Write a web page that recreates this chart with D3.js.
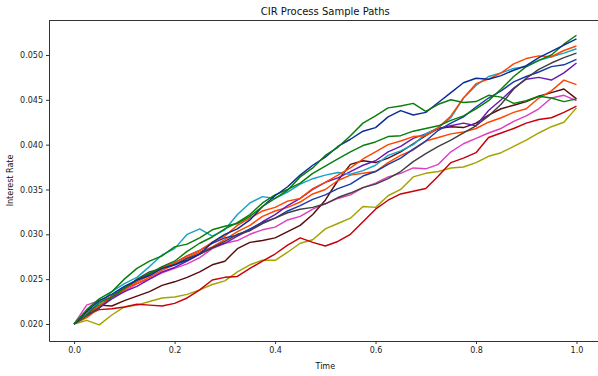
<!DOCTYPE html>
<html>
<head>
<meta charset="utf-8">
<script src="https://cdn.jsdelivr.net/npm/d3@7"></script>
<style>
    body { margin: 0; background: #fff; }
    svg { display: block; font-family: 'DejaVu Sans', sans-serif; }
</style>
</head>
<body>
<div id="chart"></div>
<script>
'use strict';

// sample times (41 steps on [0, 1])
const times = [0, 0.025, 0.05, 0.075, 0.1, 0.125, 0.15, 0.175, 0.2, 0.225, 0.25, 0.275, 0.3, 0.325, 0.35, 0.375,
    0.4, 0.425, 0.45, 0.475, 0.5, 0.525, 0.55, 0.575, 0.6, 0.625, 0.65, 0.675, 0.7, 0.725, 0.75, 0.775,
    0.8, 0.825, 0.85, 0.875, 0.9, 0.925, 0.95, 0.975, 1];

// paths
const olivePath = [0.0200, 0.0204, 0.0199, 0.0210, 0.0219, 0.0221, 0.0225, 0.0229, 0.0230, 0.0233, 0.0238, 0.0244, 0.0248, 0.0258,
    0.0266, 0.0271, 0.0271, 0.0280, 0.0290, 0.0294, 0.0306, 0.0312, 0.0318, 0.0331, 0.0330, 0.0343, 0.0350, 0.0364, 0.0368, 0.0370,
    0.0374, 0.0375, 0.0380, 0.0387, 0.0391, 0.0398, 0.0405, 0.0413, 0.0420, 0.0425, 0.0441];
const redPath = [0.0200, 0.0210, 0.0216, 0.0217, 0.0219, 0.0222, 0.0221, 0.0220, 0.0223, 0.0229, 0.0238, 0.0249, 0.0252, 0.0253,
    0.0262, 0.0270, 0.0278, 0.0288, 0.0296, 0.0291, 0.0287, 0.0292, 0.0300, 0.0314, 0.0328, 0.0338, 0.0345, 0.0348, 0.0351, 0.0365,
    0.0380, 0.0385, 0.0391, 0.0408, 0.0413, 0.0418, 0.0424, 0.0428, 0.0430, 0.0436, 0.0443];
const magentaPath = [0.0200, 0.0221, 0.0226, 0.0230, 0.0236, 0.0245, 0.0250, 0.0257, 0.0262, 0.0267, 0.0274, 0.0284, 0.0290, 0.0293,
    0.0300, 0.0305, 0.0308, 0.0316, 0.0320, 0.0328, 0.0334, 0.0340, 0.0344, 0.0352, 0.0357, 0.0364, 0.0368, 0.0374, 0.0373, 0.0378,
    0.0392, 0.0401, 0.0407, 0.0413, 0.0418, 0.0426, 0.0432, 0.0440, 0.0452, 0.0455, 0.0449];
const maroonPath = [0.0200, 0.0214, 0.0221, 0.0220, 0.0226, 0.0231, 0.0236, 0.0243, 0.0247, 0.0252, 0.0258, 0.0266, 0.0270, 0.0284,
    0.0291, 0.0293, 0.0296, 0.0303, 0.0310, 0.0322, 0.0338, 0.0360, 0.0378, 0.0382, 0.0380, 0.0385, 0.0392, 0.0401, 0.0410, 0.0418,
    0.0420, 0.0419, 0.0424, 0.0433, 0.0440, 0.0444, 0.0448, 0.0454, 0.0458, 0.0462, 0.0451];
const orangePathB = [0.0200, 0.0207, 0.0218, 0.0231, 0.0240, 0.0245, 0.0252, 0.0260, 0.0266, 0.0274, 0.0280, 0.0286, 0.0294, 0.0303,
    0.0310, 0.0320, 0.0326, 0.0330, 0.0336, 0.0345, 0.0350, 0.0360, 0.0366, 0.0368, 0.0370, 0.0380, 0.0388, 0.0394, 0.0404, 0.0408,
    0.0412, 0.0414, 0.0418, 0.0425, 0.0430, 0.0436, 0.0440, 0.0452, 0.0460, 0.0472, 0.0467];
const purplePath = [0.0200, 0.0210, 0.0218, 0.0228, 0.0236, 0.0242, 0.0250, 0.0258, 0.0263, 0.0270, 0.0278, 0.0285, 0.0290, 0.0298,
    0.0305, 0.0314, 0.0322, 0.0332, 0.0340, 0.0350, 0.0358, 0.0363, 0.0370, 0.0377, 0.0382, 0.0392, 0.0398, 0.0407, 0.0412, 0.0418,
    0.0421, 0.0424, 0.0421, 0.0438, 0.0450, 0.0463, 0.0473, 0.0475, 0.0472, 0.0480, 0.0491];
const bluePathB = [0.0200, 0.0212, 0.0220, 0.0231, 0.0240, 0.0249, 0.0256, 0.0263, 0.0268, 0.0276, 0.0282, 0.0290, 0.0296, 0.0299,
    0.0306, 0.0313, 0.0318, 0.0326, 0.0332, 0.0339, 0.0344, 0.0351, 0.0356, 0.0365, 0.0370, 0.0378, 0.0385, 0.0395, 0.0404, 0.0416,
    0.0424, 0.0431, 0.0442, 0.0452, 0.0460, 0.0470, 0.0476, 0.0481, 0.0487, 0.0489, 0.0495];
const grayPath = [0.0200, 0.0209, 0.0218, 0.0230, 0.0238, 0.0250, 0.0258, 0.0262, 0.0266, 0.0273, 0.0278, 0.0285, 0.0292, 0.0300,
    0.0304, 0.0312, 0.0318, 0.0324, 0.0328, 0.0330, 0.0334, 0.0341, 0.0346, 0.0352, 0.0356, 0.0362, 0.0370, 0.0381, 0.0390, 0.0398,
    0.0405, 0.0413, 0.0421, 0.0432, 0.0445, 0.0462, 0.0474, 0.0484, 0.0491, 0.0497, 0.0502];
const cyanPath = [0.0200, 0.0213, 0.0222, 0.0236, 0.0245, 0.0252, 0.0264, 0.0277, 0.0284, 0.0300, 0.0306, 0.0298, 0.0305, 0.0322,
    0.0335, 0.0342, 0.0340, 0.0347, 0.0356, 0.0362, 0.0366, 0.0369, 0.0367, 0.0371, 0.0377, 0.0388, 0.0393, 0.0400, 0.0412, 0.0419,
    0.0430, 0.0452, 0.0466, 0.0476, 0.0480, 0.0485, 0.0487, 0.0494, 0.0498, 0.0502, 0.0507];
const orangePathA = [0.0200, 0.0212, 0.0220, 0.0231, 0.0238, 0.0247, 0.0254, 0.0263, 0.0268, 0.0276, 0.0282, 0.0291, 0.0298, 0.0310,
    0.0318, 0.0326, 0.0330, 0.0337, 0.0340, 0.0351, 0.0358, 0.0366, 0.0374, 0.0384, 0.0392, 0.0400, 0.0404, 0.0409, 0.0410, 0.0419,
    0.0432, 0.0452, 0.0468, 0.0473, 0.0480, 0.0490, 0.0496, 0.0499, 0.0498, 0.0505, 0.0510];
const greenPathB = [0.0200, 0.0210, 0.0224, 0.0230, 0.0240, 0.0249, 0.0256, 0.0264, 0.0270, 0.0281, 0.0290, 0.0297, 0.0306, 0.0313,
    0.0322, 0.0335, 0.0344, 0.0350, 0.0357, 0.0368, 0.0376, 0.0384, 0.0392, 0.0399, 0.0403, 0.0409, 0.0410, 0.0415, 0.0418, 0.0421,
    0.0427, 0.0432, 0.0440, 0.0449, 0.0462, 0.0476, 0.0487, 0.0494, 0.0500, 0.0512, 0.0522];
const navyPath = [0.0200, 0.0214, 0.0226, 0.0233, 0.0242, 0.0249, 0.0254, 0.0262, 0.0266, 0.0271, 0.0278, 0.0291, 0.0300, 0.0306,
    0.0316, 0.0331, 0.0343, 0.0353, 0.0366, 0.0377, 0.0386, 0.0398, 0.0406, 0.0415, 0.0419, 0.0431, 0.0438, 0.0433, 0.0436, 0.0447,
    0.0458, 0.0469, 0.0474, 0.0473, 0.0477, 0.0483, 0.0488, 0.0497, 0.0504, 0.0511, 0.0518];
const greenPathA = [0.0200, 0.0216, 0.0228, 0.0236, 0.0250, 0.0262, 0.0270, 0.0276, 0.0286, 0.0289, 0.0296, 0.0305, 0.0309, 0.0312,
    0.0320, 0.0331, 0.0340, 0.0349, 0.0364, 0.0374, 0.0388, 0.0397, 0.0410, 0.0424, 0.0432, 0.0441, 0.0443, 0.0446, 0.0437, 0.0445,
    0.0450, 0.0447, 0.0448, 0.0455, 0.0453, 0.0446, 0.0449, 0.0454, 0.0452, 0.0448, 0.0451];

const pathList = [olivePath, redPath, magentaPath, maroonPath, orangePathB, purplePath, bluePathB,
    grayPath, cyanPath, orangePathA, greenPathB, navyPath, greenPathA];
const pathColors = ['#a3a300', '#c8000a', '#de3fbf', '#580d0d', '#ff4500', '#6b18b8', '#1a3aa8',
    '#404040', '#14a3c4', '#ff4500', '#0a7d0a', '#0a2d96', '#0a7d0a'];

const xTicks = [0, 0.2, 0.4, 0.6, 0.8, 1.0];
const yTicks = [0.020, 0.025, 0.030, 0.035, 0.040, 0.045, 0.050];

class CirChart {
    constructor() {
        this.width = 598;
        this.height = 376;
        this.margin = { top: 20, left: 49, bottom: 341, right: 601.6 };
        this.xScale = d3.scaleLinear().domain([-0.05, 1.05]).range([this.margin.left, this.margin.right]);
        this.yScale = d3.scaleLinear().domain([0.0181, 0.0539]).range([this.margin.bottom, this.margin.top]);
    }

    prepareSVG() {
        this.svg = d3.select('#chart').append('svg')
            .attr('width', this.width)
            .attr('height', this.height);
        this.svg.append('rect').attr('width', this.width).attr('height', this.height).attr('fill', '#fff');
        this.svg.append('defs').append('clipPath').attr('id', 'plotClip')
            .append('rect')
            .attr('x', this.margin.left).attr('y', this.margin.top)
            .attr('width', this.margin.right - this.margin.left)
            .attr('height', this.margin.bottom - this.margin.top);
    }

    drawPaths() {
        const line = d3.line()
            .x((d, i) => this.xScale(times[i]))
            .y((d) => this.yScale(d));
        const g = this.svg.append('g').attr('clip-path', 'url(#plotClip)');
        pathList.forEach((values, i) => {
            g.append('path')
                .datum(values)
                .attr('fill', 'none')
                .attr('stroke', pathColors[i])
                .attr('stroke-width', 1.45)
                .attr('stroke-linejoin', 'round')
                .attr('d', line);
        });
    }

    drawAxis() {
        const m = this.margin;
        const xAxis = this.svg.append('g')
            .attr('transform', `translate(0, ${m.bottom})`)
            .call(d3.axisBottom(this.xScale).tickValues(xTicks)
                .tickFormat(d3.format('.1f')).tickSize(3).tickSizeOuter(0).tickPadding(3));
        const yAxis = this.svg.append('g')
            .attr('transform', `translate(${m.left}, 0)`)
            .call(d3.axisLeft(this.yScale).tickValues(yTicks)
                .tickFormat(d3.format('.3f')).tickSize(3).tickSizeOuter(0).tickPadding(3));

        [xAxis, yAxis].forEach((ax) => {
            ax.attr('font-family', null).attr('font-size', null);
            ax.select('.domain').attr('stroke', '#333');
            ax.selectAll('.tick line').attr('stroke', '#333');
            ax.selectAll('.tick text').attr('fill', '#222').style('font-size', '8px');
        });

        // top + right spines
        this.svg.append('line')
            .attr('x1', m.left).attr('x2', m.right)
            .attr('y1', m.top + 0.5).attr('y2', m.top + 0.5)
            .attr('stroke', '#333');
        this.svg.append('line')
            .attr('x1', m.right).attr('x2', m.right)
            .attr('y1', m.top).attr('y2', m.bottom)
            .attr('stroke', '#333');
    }

    drawText() {
        const m = this.margin;
        this.svg.append('text')
            .attr('x', (m.left + m.right) / 2).attr('y', 15)
            .attr('text-anchor', 'middle')
            .style('font-size', '10px').attr('fill', '#111')
            .text('CIR Process Sample Paths');
        this.svg.append('text')
            .attr('x', (m.left + m.right) / 2).attr('y', 369)
            .attr('text-anchor', 'middle')
            .style('font-size', '8px').attr('fill', '#111')
            .text('Time');
        this.svg.append('text')
            .attr('transform', `translate(13, ${(m.top + m.bottom) / 2}) rotate(-90)`)
            .attr('text-anchor', 'middle')
            .style('font-size', '8px').attr('fill', '#111')
            .text('Interest Rate');
    }
}

const chart = new CirChart();
chart.prepareSVG();
chart.drawPaths();
chart.drawAxis();
chart.drawText();
</script>
</body>
</html>
